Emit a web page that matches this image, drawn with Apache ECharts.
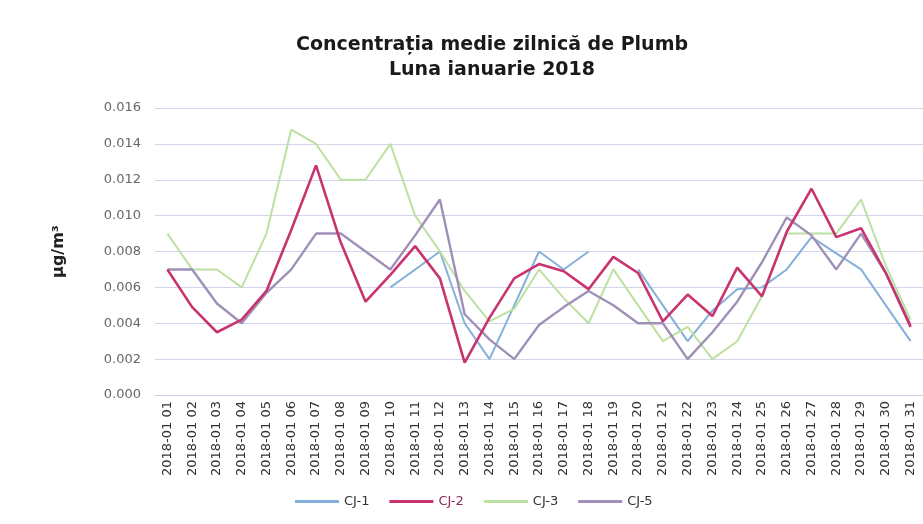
<!DOCTYPE html>
<html>
<head>
<meta charset="utf-8">
<script src="https://cdn.jsdelivr.net/npm/echarts@6/dist/echarts.min.js"></script>
<style>
html,body{margin:0;padding:0;background:#fff;}
#c{width:923px;height:524px;}
</style>
</head>
<body>
<div id="c"></div>
<script>
var days = ["2018-01 01","2018-01 02","2018-01 03","2018-01 04","2018-01 05","2018-01 06","2018-01 07","2018-01 08","2018-01 09","2018-01 10","2018-01 11","2018-01 12","2018-01 13","2018-01 14","2018-01 15","2018-01 16","2018-01 17","2018-01 18","2018-01 19","2018-01 20","2018-01 21","2018-01 22","2018-01 23","2018-01 24","2018-01 25","2018-01 26","2018-01 27","2018-01 28","2018-01 29","2018-01 30","2018-01 31"];
var seriesNames = ["CJ-1","CJ-2","CJ-3","CJ-5"];
var cj1 = [null,null,null,null,null,null,null,null,null,0.006,0.007,0.008,0.004,0.002,0.005,0.008,0.007,0.008,null,0.007,0.005,0.003,0.0047,0.0059,0.006,0.007,0.0088,0.0079,0.007,0.005,0.003];
var cj2 = [0.007,0.0049,0.0035,0.0042,0.0058,0.0092,0.0128,0.0085,0.0052,0.0067,0.0083,0.0065,0.0018,0.0043,0.0065,0.0073,0.0069,0.0059,0.0077,0.0068,0.0041,0.0056,0.0044,0.0071,0.0055,0.0091,0.0115,0.0088,0.0093,0.0068,0.0038];
var cj3 = [0.009,0.007,0.007,0.006,0.009,0.0148,0.014,0.012,0.012,0.014,0.010,0.008,0.0058,0.0041,0.0048,0.007,0.0054,0.004,0.007,0.005,0.003,0.0038,0.002,0.003,0.0055,0.009,0.009,0.009,0.0109,0.0072,0.0042];
var cj5 = [0.007,0.007,0.0051,0.004,0.0057,0.007,0.009,0.009,0.008,0.007,0.0089,0.0109,0.0045,0.0031,0.002,0.0039,0.0049,0.0058,0.005,0.004,0.004,0.002,0.0035,0.0052,0.0074,0.0099,0.0089,0.007,0.009,0.0068,0.0039];
var yTicks = {min:0, max:0.016, interval:0.002};

var colors = ["#86b0dc","#c8346f","#bde0a3","#a090b8"];
var widths = [2,2.6,2,2.4];
var allData = [cj1,cj2,cj3,cj5];

var chart = echarts.init(document.getElementById('c'));
chart.setOption({
  backgroundColor:'#ffffff',
  animation:false,
  title:{
    text:'Concentrația medie zilnică de Plumb\nLuna ianuarie 2018',
    left:487, top:28, textAlign:'center',
    textStyle:{fontFamily:'DejaVu Sans',fontSize:19,fontWeight:'bold',color:'#1a1a1a',lineHeight:25}
  },
  legend:{
    left:290, top:490,
    icon:'rect', itemWidth:44, itemHeight:3, itemGap:20,
    textStyle:{fontFamily:'DejaVu Sans',fontSize:13,color:'#333'},
    data:seriesNames.map(function(n,i){
      return {name:n, textStyle:{color: i===1 ? '#8a2a5e' : '#333'}};
    })
  },
  grid:{left:155,right:0,top:108,bottom:129},
  xAxis:{
    type:'category', data:days, boundaryGap:true,
    axisLine:{show:true,lineStyle:{color:'#cfd0e2'}},
    axisTick:{show:false},
    axisLabel:{rotate:90,interval:0,fontFamily:'DejaVu Sans',fontSize:13,color:'#333',margin:6},
    splitLine:{show:false}
  },
  yAxis:{
    type:'value', min:yTicks.min, max:yTicks.max, interval:yTicks.interval,
    name:'µg/m³', nameLocation:'middle', nameGap:88, nameRotate:90,
    nameTextStyle:{fontFamily:'DejaVu Sans',fontSize:16,fontWeight:'bold',color:'#222'},
    axisLine:{show:false}, axisTick:{show:false},
    axisLabel:{fontFamily:'DejaVu Sans',fontSize:13,color:'#666',margin:14,
      formatter:function(v){return v.toFixed(3);}},
    splitLine:{lineStyle:{color:'#d4d5ea',width:1}}
  },
  series:allData.map(function(d,i){
    return {
      name:seriesNames[i], type:'line', data:d, symbol:'none',
      connectNulls:false,
      lineStyle:{color:colors[i],width:widths[i]},
      itemStyle:{color:colors[i]},
      z: i===1 ? 5 : (i===3 ? 4 : 3)
    };
  })
});
</script>
</body>
</html>
